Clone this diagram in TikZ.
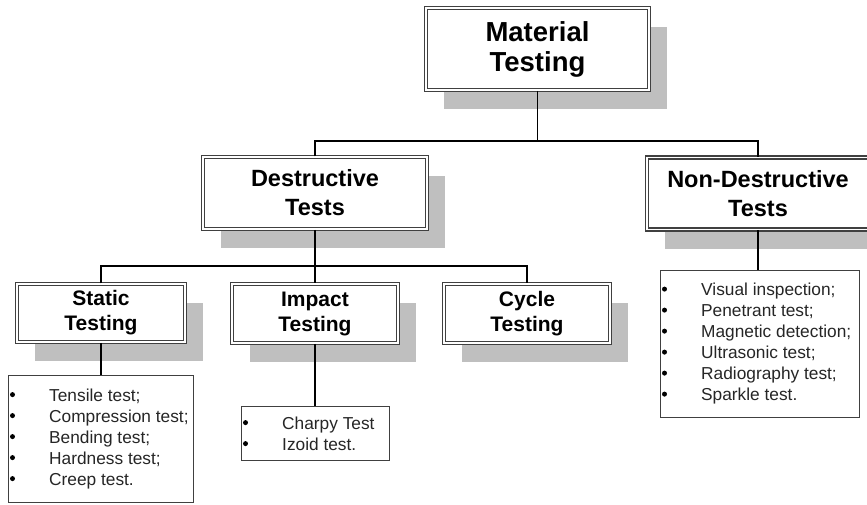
\documentclass[tikz,border=0pt]{standalone}
\usepackage{fontspec}
\setmainfont{Liberation Sans}
\usetikzlibrary{shadows}
\begin{document}
\begin{tikzpicture}[x=1pt,y=-1pt,
  hbox/.style={draw=black!75, double=white, double distance=1.4pt, line width=1.5pt, fill=white, align=center, inner sep=0pt,
    general shadow={fill=black!25, shadow xshift=18pt, shadow yshift=-19pt}},
  lvlA/.style={font=\fontsize{27.5}{30}\selectfont\bfseries},
  lvlB/.style={font=\fontsize{23.5}{29}\selectfont\bfseries},
  lvlC/.style={font=\fontsize{21}{25}\selectfont\bfseries},
  listbox/.style={draw=black!75, line width=1pt, fill=white, inner sep=0pt},
  litem/.style={anchor=base west, inner sep=0pt, font=\fontsize{17.3}{21}\selectfont, text=black!85},
  bul/.style={fill=black},
  conn/.style={line width=1.7pt, black}
]
\useasboundingbox (0,0) rectangle (867,504);

% headers
\node[hbox, lvlA, minimum width=223pt, minimum height=82pt] (mt) at (537.5,49) {Material\\Testing};
\node[hbox, lvlB, minimum width=224pt, minimum height=72pt] (dt) at (315,193) {Destructive\\Tests};
\node[hbox, lvlB, minimum width=222pt, minimum height=72pt] (nd) at (758,193.5) {Non-Destructive\\Tests};
\node[hbox, lvlC, minimum width=168pt, minimum height=58pt] (st) at (101,313) {Static\\Testing};
\node[hbox, lvlC, minimum width=166pt, minimum height=59pt] (im) at (315,313.5) {Impact\\Testing};
\node[hbox, lvlC, minimum width=166pt, minimum height=59pt] (cy) at (527,313.5) {Cycle\\Testing};

% list boxes
\node[listbox, minimum width=185pt, minimum height=127pt] (stl) at (100.5,438.5) {};
\node[listbox, minimum width=148pt, minimum height=54pt] (iml) at (315,433) {};
\node[listbox, minimum width=199pt, minimum height=147pt] (ndl) at (759.5,343.5) {};

% list items
\foreach \t [count=\i] in {Tensile test;, Compression test;, Bending test;, Hardness test;, Creep test.} {
  \node[litem] (s\i) at (49, 380+21*\i) {\t};
  \fill[bul] (12.5, 373.6+21*\i) circle (2.5pt);
}
\foreach \t [count=\i] in {Charpy Test, Izoid test.} {
  \node[litem] (p\i) at (282, 408+21*\i) {\t};
  \fill[bul] (245.5, 401.6+21*\i) circle (2.5pt);
}
\foreach \t [count=\i] in {Visual inspection;, Penetrant test;, Magnetic detection;, Ultrasonic test;, Radiography test;, Sparkle test.} {
  \node[litem] (n\i) at (701, 274.5+21*\i) {\t};
  \fill[bul] (664.5, 268.1+21*\i) circle (2.5pt);
}

% connectors
\coordinate (j1) at (537.5,141);
\coordinate (j2) at (315,266);
\draw[conn] (mt.south) -- (j1);
\draw[conn] (dt.north) |- (j1) -| (nd.north);
\draw[conn] (dt.south) -- (j2);
\draw[conn] (st.north) |- (j2) -| (cy.north);
\draw[conn] (j2) -- (im.north);
\draw[conn] (st.south) -- (st.south |- stl.north);
\draw[conn] (im.south) -- (im.south |- iml.north);
\draw[conn] (nd.south) -- (nd.south |- ndl.north);
\end{tikzpicture}
\end{document}
